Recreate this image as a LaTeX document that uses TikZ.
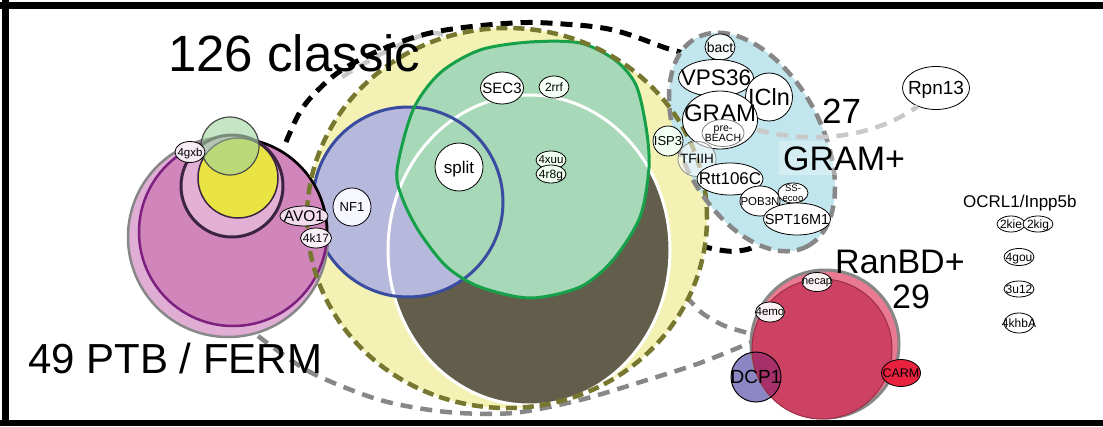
\documentclass[tikz,border=0pt]{standalone}
\usepackage{fontspec}
\setmainfont{Liberation Sans}
\usetikzlibrary{shapes.geometric}
\newcommand{\fz}[1]{\fontsize{#1}{#1}\selectfont}
\newcommand{\zt}[1]{\makebox[0pt]{\raisebox{-.5\height}[0pt][0pt]{#1}}}
\newcommand{\ztt}[1]{\makebox[0pt]{\raisebox{-.5\height}[0pt][0pt]{\begin{tabular}[b]{@{}c@{}}#1\end{tabular}}}}
\definecolor{yellowfill}{HTML}{F3F2B4}
\definecolor{olive}{HTML}{77772F}
\definecolor{darkfill}{HTML}{625E4B}
\definecolor{lav}{HTML}{B7B9DC}
\definecolor{blueline}{HTML}{3A4CA0}
\definecolor{greenfill}{HTML}{A7D8B7}
\definecolor{greenline}{HTML}{17A04A}
\definecolor{pinkout}{HTML}{E0AED4}
\definecolor{pinkin}{HTML}{D085BB}
\definecolor{purpleline}{HTML}{7E207F}
\definecolor{pinkmid}{HTML}{E2B0D5}
\definecolor{midline}{HTML}{3B2342}
\definecolor{yelcirc}{HTML}{E9E443}
\definecolor{smallgreen}{HTML}{9FD39F}
\definecolor{gramblue}{HTML}{C1E6ED}
\definecolor{greydash}{HTML}{878787}
\definecolor{lightgrey}{HTML}{C9C9C9}
\definecolor{redout}{HTML}{E97A91}
\definecolor{redin}{HTML}{CD4262}
\definecolor{redline}{HTML}{9A2E45}
\definecolor{dcpfill}{HTML}{8C86C5}
\definecolor{dcpover}{HTML}{A8306A}
\definecolor{carmfill}{HTML}{E8213F}
\tikzset{
  tag/.style={ellipse, draw=black, line width=0.8pt, fill=white, inner sep=0pt, text=black},
  blackdash/.style={draw=black, line width=5pt, dash pattern=on 12pt off 8pt},
  olivedash/.style={draw=olive, line width=4.5pt, dash pattern=on 11pt off 6pt},
  gdash/.style={draw=greydash, line width=4.5pt, dash pattern=on 12pt off 8pt},
  lgdash/.style={draw=lightgrey, line width=4.5pt, dash pattern=on 12pt off 8pt},
  gramdash/.style={draw=greydash, line width=4.5pt, dash pattern=on 12pt off 7pt},
  biglabel/.style={anchor=base west, inner sep=0pt, text=black},
}
\newcommand{\tg}[6][]{\node[tag,minimum width=#4pt,minimum height=#5pt,#1] (#2) at (#3) {\zt{#6}};}
\begin{document}
\begin{tikzpicture}[x=1pt,y=-1pt]
\useasboundingbox (0,0) rectangle (1103,426);
% set outlines underneath
\draw[lgdash] plot[smooth] coordinates {(342,77) (385,52) (432,33) (470,45)};
\draw[blackdash] plot[smooth, tension=0.6] coordinates {(286,142) (300,112) (318,90) (345,68) (390,46) (440,31) (513,23) (563,24) (613,30) (663,47) (700,62) (745,110) (770,180) (760,238) (738,251) (705,247) (690,240)};
\draw[gdash] plot[smooth] coordinates {(258,336) (310,372) (380,400) (447,412) (513,413) (580,400) (647,380) (700,363) (752,342)};
\draw[gdash] plot[smooth] coordinates {(686,296) (702,313) (725,326) (752,334)};
% classic region
\fill[yellowfill] (507,218) ellipse[x radius=200pt, y radius=190pt];
\fill[darkfill] (529,250) ellipse[x radius=141pt, y radius=155pt];
\fill[lav] (408,202) circle[radius=95pt];
\fill[greenfill] plot[smooth cycle] coordinates {(397,170) (413,110) (440,73) (480,50) (530,42) (580,43) (615,60) (636,85) (646,127) (649,167) (640,217) (613,260) (580,287) (530,298) (480,287) (447,267) (420,233) (403,200)};
\draw[white, line width=3pt] (529,250) ellipse[x radius=141pt, y radius=155pt];
\draw[blueline, line width=3pt] (408,202) circle[radius=95pt];
\draw[greenline, line width=3pt] plot[smooth cycle] coordinates {(397,170) (413,110) (440,73) (480,50) (530,42) (580,43) (615,60) (636,85) (646,127) (649,167) (640,217) (613,260) (580,287) (530,298) (480,287) (447,267) (420,233) (403,200)};
% PTB / FERM group
\filldraw[fill=pinkout, draw=greydash, line width=2.5pt] (228,237) circle[radius=100pt];
\filldraw[fill=pinkin, draw=purpleline, line width=2.5pt] (233,232) circle[radius=94pt];
\draw[black, line width=2.5pt] (233,232) ++(76:94pt) arc[start angle=76, end angle=-7, radius=94pt];
\filldraw[fill=pinkmid, draw=midline, line width=3pt] (232,186) circle[radius=51pt];
\filldraw[fill=yelcirc, draw=midline, line width=1.5pt] (238,178) circle[radius=40pt];
\filldraw[fill=smallgreen, fill opacity=0.6, draw=black!70, line width=1.2pt] (230,146) circle[radius=29pt];
% GRAM region
\fill[gramblue, rotate around={-62:(752,142)}] (752,142) ellipse[x radius=118pt, y radius=70pt];
\draw[olivedash] (507,218) ellipse[x radius=200pt, y radius=190pt];
\draw[gramdash, rotate around={-62:(752,142)}] (752,142) ellipse[x radius=118pt, y radius=70pt];
% nodes in classic / PTB
\tg[font=\fz{15}]{sec3}{502,88}{43}{32}{SEC3}
\tg[font=\fz{12}, fill=green!4!white]{rrf}{554,87}{30}{22}{2rrf}
\tg[font=\fz{17}]{split}{459,167}{48}{48}{split}
\tg[font=\fz{11.5}, fill=green!6!white]{xuu}{551,160}{30}{18}{4xuu}
\tg[font=\fz{12}, fill=green!6!white]{reg}{551,174}{30}{18}{4r8g}
\tg[font=\fz{13}, fill=blue!3!white]{nf}{352,207}{38}{38}{NF1}
\tg[font=\fz{11.5}, fill=pinkout!25!white]{gxb}{190,152}{30}{21}{4gxb}
\tg[font=\fz{15.5}, fill=pinkout!45!white]{avo}{304,216}{48}{20}{AVO1}
\tg[font=\fz{12}, fill=pinkout!20!white]{kse}{316,238}{31}{20}{4k17}
% GRAM nodes
\tg[font=\fz{14}, fill=gramblue!15!white]{bact}{720,47}{30}{26}{bact}
\tg[font=\fz{22.5}]{vps}{716,78}{75}{37}{VPS36}
\tg[font=\fz{23.5}]{icln}{769,97}{47}{48}{ICln}
\tg[font=\fz{24}]{gram}{720,120}{75}{58}{\raisebox{14pt}{GRAM}}
\node[tag, draw=black!50, minimum width=42pt, minimum height=27pt, font=\fz{10.5}] (pre) at (723,133) {\ztt{pre-\\BEACH}};
\tg[font=\fz{13}, fill=green!5!white]{isp}{668,141}{30}{30}{ISP3}
\tg[font=\fz{13.5}, fill opacity=0.55, text opacity=1, draw=black!45]{tfiih}{697,159}{38}{35}{TFIIH}
\tg[font=\fz{17}]{rtt}{730,179}{66}{32}{Rtt106C}
\tg[font=\fz{11.5}]{pob}{760,201}{40}{30}{POB3N}
\node[tag, minimum width=30pt, minimum height=20pt, font=\fz{9.5}] (ss) at (793,193) {\ztt{SS-\\ecoo}};
\tg[font=\fz{14.5}]{spt}{797,219}{67}{32}{SPT16M1}
\tg[font=\fz{19}]{rpn}{936,88}{67}{43}{Rpn13}
\coordinate (lgs) at (757,130);
\draw[lgdash] (lgs) .. controls (810,143) and (870,140) .. (rpn.225);
% RanBD region
\fill[dcpfill] (756,377) circle[radius=25pt];
\fill[redout, even odd rule] (825,344) circle[radius=74pt] (822,349) circle[radius=70pt];
\draw[greydash, line width=3pt] (825,344) circle[radius=74pt];
\fill[redin] (822,349) circle[radius=70pt];
\begin{scope}
  \clip (756,377) circle[radius=25pt];
  \fill[dcpover] (822,349) circle[radius=70pt];
\end{scope}
\draw[redline, line width=1pt] (822,349) circle[radius=70pt];
\node[circle, draw=black, line width=1pt, minimum size=50pt, inner sep=0pt, font=\fz{19}] (dcp) at (756,377) {\zt{DCP1}};
\tg[font=\fz{11}, fill=redout!10!white]{necap}{817,282}{30}{19}{necap}
\tg[font=\fz{11.5}, fill=redout!10!white]{emo}{770,312}{29}{20}{4emo}
\tg[font=\fz{12.5}, fill=carmfill]{carm}{901,373}{39}{27}{CARM}
% OCRL1 group
\tg[font=\fz{12}]{kie}{1011,224}{28}{16}{2kie}
\tg[font=\fz{12}]{kig}{1038,224}{30}{16}{2kig}
\tg[font=\fz{12}]{gou}{1019,257}{30}{17}{4gou}
\tg[font=\fz{12}]{utw}{1019,289}{30}{16}{3u12}
\tg[font=\fz{12}]{khb}{1019,323}{30}{20}{4khbA}
% labels
\node[biglabel, font=\fz{51}] (classic) at (168,71) {126 classic};
\node[biglabel, font=\fz{42}] (ptb) at (28,373) {49 PTB / FERM};
\node[biglabel, font=\fz{35}] (n27) at (822,123) {27};
\node[anchor=base west, inner xsep=4pt, inner ysep=5pt, fill=white, fill opacity=0.3, text opacity=1, font=\fz{34}] (gramplus) at (779,170) {GRAM+};
\node[biglabel, font=\fz{34}] (ranbd) at (835,273) {RanBD+};
\node[biglabel, font=\fz{34}] (n29) at (892,308) {29};
\node[biglabel, font=\fz{17}] (ocrl) at (963,207) {OCRL1/Inpp5b};
% frame
\draw[line width=7pt] (0,5.5) -- (1103,5.5);
\draw[line width=7pt] (5.5,0) -- (5.5,426);
\draw[line width=6pt] (0,423) -- (1103,423);
\end{tikzpicture}
\end{document}
